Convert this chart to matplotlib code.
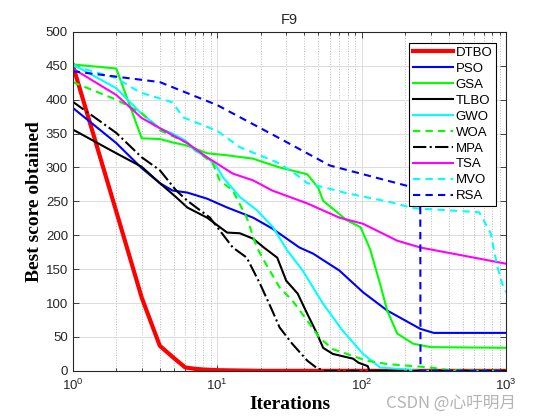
import numpy as np
import matplotlib
matplotlib.use('Agg')
import matplotlib.pyplot as plt
from matplotlib.ticker import LogLocator, MultipleLocator

plt.rcParams['font.family'] = ['Liberation Sans', 'DejaVu Sans']

# convergence curves (iteration, best score)
dtbo_x = [1, 2, 3, 4, 5, 6, 7, 8, 10, 20, 1000]
dtbo_y = [451, 235, 108, 37, 19, 5, 3, 2, 1, 0, 0]

pso_x = [1, 2, 3, 4, 4.9, 6.2, 8.5, 11.7, 17.7, 24, 37, 46, 70, 102, 150, 254, 315, 1000]
pso_y = [388, 336, 299, 277, 266, 263, 254, 241, 226, 210, 182, 173, 148, 116, 89, 62, 56, 56]

gsa_x = [1, 2, 3, 4, 4.9, 6, 7, 8.5, 11.7, 17.7, 27, 42, 50, 54, 79, 98, 114, 134, 150, 176, 227, 300, 1000]
gsa_y = [452, 446, 343, 342, 337, 333, 328, 321, 318, 313, 300, 290, 270, 251, 222, 212, 180, 128, 89, 55, 40, 35, 34]

tlbo_x = [1, 2, 3, 4, 5.2, 6.2, 8.5, 11.7, 14.3, 17.7, 21, 26, 30, 36, 42, 49, 54, 63, 87, 95, 110, 113, 1000]
tlbo_y = [356, 321, 301, 277, 256, 241, 226, 204, 203, 195, 182, 167, 133, 114, 84, 55, 34, 25, 18, 12, 7, 0, 0]

gwo_x = [1, 2, 2.9, 4, 4.9, 6, 7, 8.5, 10, 11, 14.4, 18.8, 24.3, 30.4, 39, 54, 74, 102, 134, 200, 260, 1000]
gwo_y = [452, 417, 382, 358, 350, 340, 325, 315, 300, 285, 256, 237, 212, 178, 148, 99, 59, 25, 5, 2, 0, 0]

woa_x = [1, 2, 3, 4, 6.2, 9.3, 10.4, 12.8, 16, 18.8, 21, 27, 33, 42, 51, 63, 79, 108, 150, 227, 300, 400, 1000]
woa_y = [426, 400, 380, 355, 336, 306, 281, 266, 226, 182, 163, 123, 104, 74, 49, 32, 25, 15, 10, 7, 5, 1, 0]

mpa_x = [1, 2, 3, 4, 5.2, 6.2, 8.9, 12.8, 16, 19.8, 24, 27, 33, 42, 49, 56, 1000]
mpa_y = [397, 351, 315, 296, 266, 251, 226, 182, 167, 128, 89, 64, 40, 15, 4, 0, 0]

tsa_x = [1, 2, 3, 4, 6.2, 8.5, 12.8, 17.7, 24, 42, 70, 102, 176, 254, 505, 1000]
tsa_y = [446, 407, 373, 358, 336, 315, 291, 281, 266, 247, 226, 217, 192, 182, 170, 158]

mvo_x = [1, 2, 2.9, 4.9, 5.8, 10, 14.3, 27, 36, 42, 79, 157, 227, 650, 780, 870, 955, 1000]
mvo_y = [450, 432, 411, 396, 374, 354, 330, 306, 288, 277, 262, 249, 240, 234, 203, 153, 123, 116]

rsa_x = [1, 4, 10, 27, 60, 242, 254, 255, 1000]
rsa_y = [442, 426, 392, 343, 303, 269, 265, 0, 0]

names = ['DTBO', 'PSO', 'GSA', 'TLBO', 'GWO', 'WOA', 'MPA', 'TSA', 'MVO', 'RSA']
xs = [dtbo_x, pso_x, gsa_x, tlbo_x, gwo_x, woa_x, mpa_x, tsa_x, mvo_x, rsa_x]
ys = [dtbo_y, pso_y, gsa_y, tlbo_y, gwo_y, woa_y, mpa_y, tsa_y, mvo_y, rsa_y]
colors = ['#ff0000', '#0000ff', '#00ff00', '#000000', '#00ffff',
          '#00ff00', '#000000', '#ff00ff', '#00ffff', '#0000ff']
dash = (0, (3.5, 2.5))
styles = ['-', '-', '-', '-', '-', dash, '-.', '-', dash, dash]
widths = [3.0, 1.5, 1.5, 1.5, 1.5, 1.5, 1.5, 1.5, 1.5, 1.5]

fig = plt.figure(figsize=(5.6, 4.2), dpi=100)
ax = fig.add_axes([0.13, 0.117, 0.774, 0.807])

for x, y, c, ls, lw, n in zip(xs, ys, colors, styles, widths, names):
    ax.plot(x, y, color=c, linestyle=ls, linewidth=lw, label=n)

ax.set_xscale('log')
ax.set_xlim(1, 1000)
ax.set_ylim(0, 500)
ax.yaxis.set_major_locator(MultipleLocator(50))
ax.xaxis.set_major_locator(LogLocator(base=10))
ax.xaxis.set_minor_locator(LogLocator(base=10, subs=np.arange(2, 10)))

ax.grid(True, which='major', color='#dcdcdc', linewidth=0.7)
ax.grid(True, which='minor', axis='x', color='#b8b8b8', linestyle=':', linewidth=0.7)
ax.set_axisbelow(True)

ax.tick_params(which='both', direction='in', top=True, right=True,
               colors='#262626', labelsize=9.5, width=0.6)
ax.tick_params(which='major', length=4)
ax.tick_params(which='minor', length=2.5)
ax.tick_params(axis='x', pad=5)
for s in ax.spines.values():
    s.set_color('#262626')
    s.set_linewidth(0.8)

ax.set_title('F9', fontsize=10.5, color='#262626', pad=6)
ax.set_xlabel('Iterations', family='Liberation Serif', fontweight='bold', fontsize=14, labelpad=2)
ax.set_ylabel('Best score obtained', family='Liberation Serif', fontweight='bold', fontsize=14, labelpad=2)

leg = ax.legend(loc='upper right', bbox_to_anchor=(0.977, 0.968), borderaxespad=0,
                fontsize=9.5, handlelength=3.0, handletextpad=0.2, labelspacing=0.28,
                borderpad=0.3, fancybox=False, framealpha=1, edgecolor='black')
leg.get_frame().set_linewidth(0.8)

fig.text(0.69, 0.028, 'CSDN @心吁明月', fontsize=12, color='#b4b4b4',
         family=['Noto Sans CJK SC', 'DejaVu Sans'])

fig.savefig('out.png', dpi=100)
